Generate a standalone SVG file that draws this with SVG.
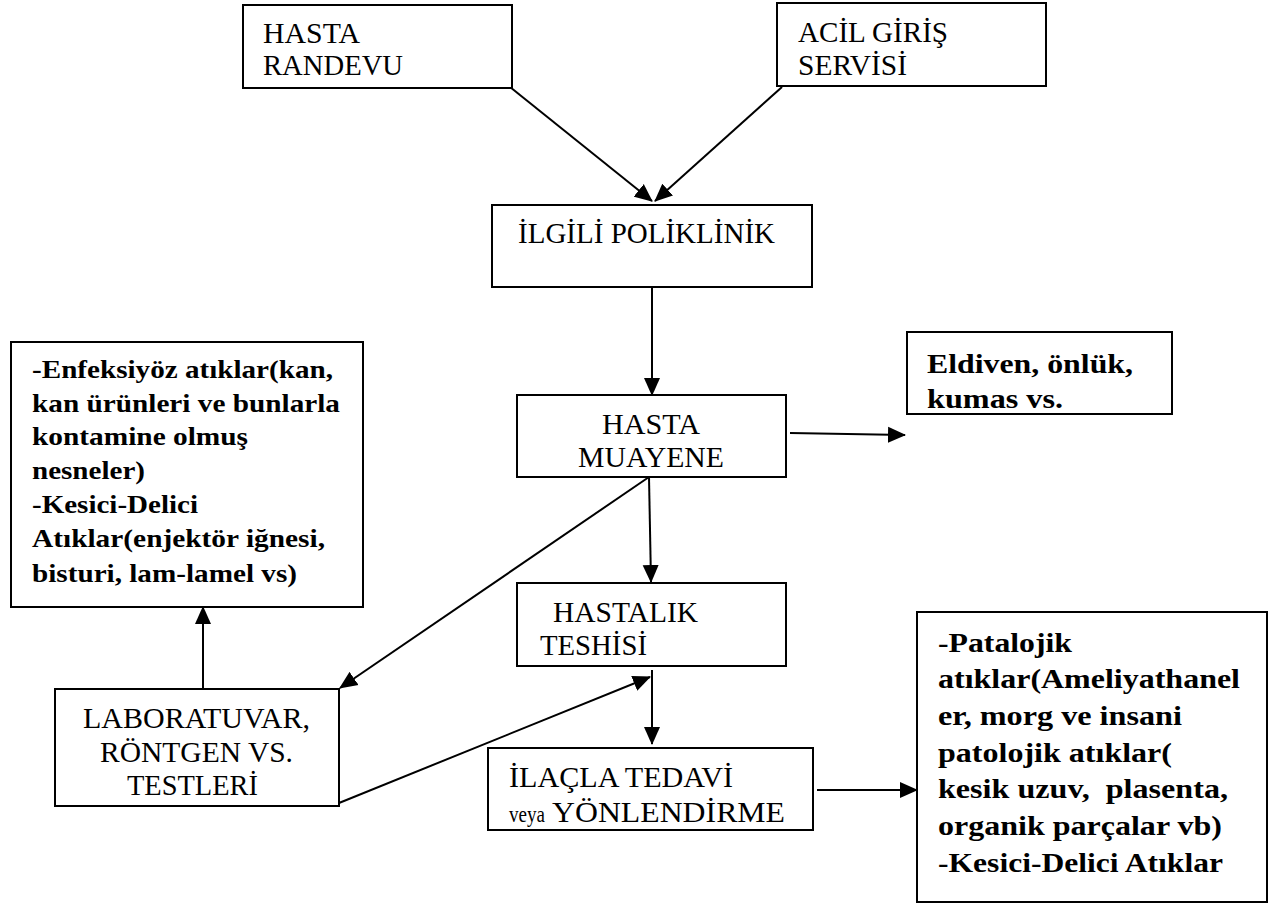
<svg xmlns="http://www.w3.org/2000/svg" width="1268" height="904" viewBox="0 0 1268 904">
<defs>
<style>
.box{fill:#fff;stroke:#000;stroke-width:2}
.c{stroke:#000;stroke-width:2;fill:none;marker-end:url(#ah)}
text{font-family:'Liberation Serif','Times New Roman',serif;fill:#000}
.r{font-size:29px}
.b{font-weight:bold;font-size:25px}
.bl{font-weight:bold;font-size:28px}
</style>
<marker id="ah" markerUnits="userSpaceOnUse" markerWidth="18" markerHeight="17" viewBox="0 0 18 17" refX="17" refY="8.5" orient="auto">
<path d="M0,0.5 L18,8.5 L0,16.5 Z" fill="#000"/>
</marker>
</defs>
<rect width="1268" height="904" fill="#fff"/>
<g id="connectors">
<line class="c" x1="510" y1="87" x2="652" y2="201"/>
<line class="c" x1="782" y1="87" x2="655" y2="201"/>
<line class="c" x1="652" y1="287" x2="652" y2="395"/>
<line class="c" x1="790" y1="433" x2="905" y2="435"/>
<line class="c" x1="649" y1="477" x2="340" y2="688"/>
<line class="c" x1="649" y1="477" x2="651" y2="582"/>
<line class="c" x1="339" y1="803" x2="650" y2="677"/>
<line class="c" x1="652" y1="670" x2="652" y2="744"/>
<line class="c" x1="203" y1="689" x2="203" y2="607"/>
<line class="c" x1="817" y1="790" x2="917" y2="790"/>
</g>
<g id="hasta-randevu">
<rect class="box" x="243" y="5" width="269" height="83"/>
<text class="r" x="263" y="43" textLength="97" lengthAdjust="spacingAndGlyphs">HASTA</text>
<text class="r" x="263" y="75" textLength="140" lengthAdjust="spacingAndGlyphs">RANDEVU</text>
</g>
<g id="acil-giris">
<rect class="box" x="777" y="3" width="269" height="83"/>
<text class="r" x="798" y="42" textLength="150" lengthAdjust="spacingAndGlyphs">ACİL GİRİŞ</text>
<text class="r" x="798" y="75" textLength="109" lengthAdjust="spacingAndGlyphs">SERVİSİ</text>
</g>
<g id="ilgili-poliklinik">
<rect class="box" x="492" y="205" width="320" height="82"/>
<text class="r" x="518" y="243" textLength="257" lengthAdjust="spacingAndGlyphs">İLGİLİ POLİKLİNİK</text>
</g>
<g id="hasta-muayene">
<rect class="box" x="517" y="395" width="269" height="82"/>
<text class="r" x="602" y="434" textLength="98" lengthAdjust="spacingAndGlyphs">HASTA</text>
<text class="r" x="578" y="467" textLength="146" lengthAdjust="spacingAndGlyphs">MUAYENE</text>
</g>
<g id="eldiven">
<rect class="box" x="907" y="332" width="265" height="82"/>
<text class="bl" x="927" y="373" font-size="30" textLength="206" lengthAdjust="spacingAndGlyphs">Eldiven, önlük,</text>
<text class="bl" x="927" y="408" font-size="30" textLength="136" lengthAdjust="spacingAndGlyphs">kumas vs.</text>
</g>
<g id="enfeksiyoz">
<rect class="box" x="11" y="342" width="352" height="265"/>
<text class="b" x="32" y="378" textLength="301" lengthAdjust="spacingAndGlyphs">-Enfeksiyöz atıklar(kan,</text>
<text class="b" x="32" y="412" textLength="308" lengthAdjust="spacingAndGlyphs">kan ürünleri ve bunlarla</text>
<text class="b" x="32" y="445" textLength="216" lengthAdjust="spacingAndGlyphs">kontamine olmuş</text>
<text class="b" x="32" y="479" textLength="113" lengthAdjust="spacingAndGlyphs">nesneler)</text>
<text class="b" x="32" y="513" textLength="166" lengthAdjust="spacingAndGlyphs">-Kesici-Delici</text>
<text class="b" x="32" y="547" textLength="293" lengthAdjust="spacingAndGlyphs">Atıklar(enjektör iğnesi,</text>
<text class="b" x="32" y="582" textLength="265" lengthAdjust="spacingAndGlyphs">bisturi, lam-lamel vs)</text>
</g>
<g id="hastalik-teshisi">
<rect class="box" x="517" y="583" width="269" height="83"/>
<text class="r" x="553" y="622" textLength="145" lengthAdjust="spacingAndGlyphs">HASTALIK</text>
<text class="r" x="540" y="655" textLength="107" lengthAdjust="spacingAndGlyphs">TESHİSİ</text>
</g>
<g id="laboratuvar">
<rect class="box" x="55" y="689" width="284" height="117"/>
<text class="r" x="83" y="728" textLength="227" lengthAdjust="spacingAndGlyphs">LABORATUVAR,</text>
<text class="r" x="100" y="762" textLength="193" lengthAdjust="spacingAndGlyphs">RÖNTGEN VS.</text>
<text class="r" x="127" y="795" textLength="131" lengthAdjust="spacingAndGlyphs">TESTLERİ</text>
</g>
<g id="ilacla-tedavi">
<rect class="box" x="488" y="748" width="325" height="82"/>
<text class="r" x="509" y="787" textLength="224" lengthAdjust="spacingAndGlyphs">İLAÇLA TEDAVİ</text>
<text x="509" y="822" font-size="23" textLength="36" lengthAdjust="spacingAndGlyphs">veya</text>
<text class="r" x="552" y="822" textLength="233" lengthAdjust="spacingAndGlyphs">YÖNLENDİRME</text>
</g>
<g id="patalojik">
<rect class="box" x="917" y="612" width="350" height="290"/>
<text class="bl" x="938" y="652" textLength="134" lengthAdjust="spacingAndGlyphs">-Patalojik</text>
<text class="bl" x="938" y="688" textLength="302" lengthAdjust="spacingAndGlyphs">atıklar(Ameliyathanel</text>
<text class="bl" x="938" y="725" textLength="244" lengthAdjust="spacingAndGlyphs">er, morg ve insani</text>
<text class="bl" x="938" y="762" textLength="234" lengthAdjust="spacingAndGlyphs">patolojik atıklar(</text>
<text class="bl" x="938" y="798" xml:space="preserve" textLength="290" lengthAdjust="spacingAndGlyphs">kesik uzuv,  plasenta,</text>
<text class="bl" x="938" y="835" textLength="284" lengthAdjust="spacingAndGlyphs">organik parçalar vb)</text>
<text class="bl" x="938" y="872" textLength="285" lengthAdjust="spacingAndGlyphs">-Kesici-Delici Atıklar</text>
</g>
</svg>
